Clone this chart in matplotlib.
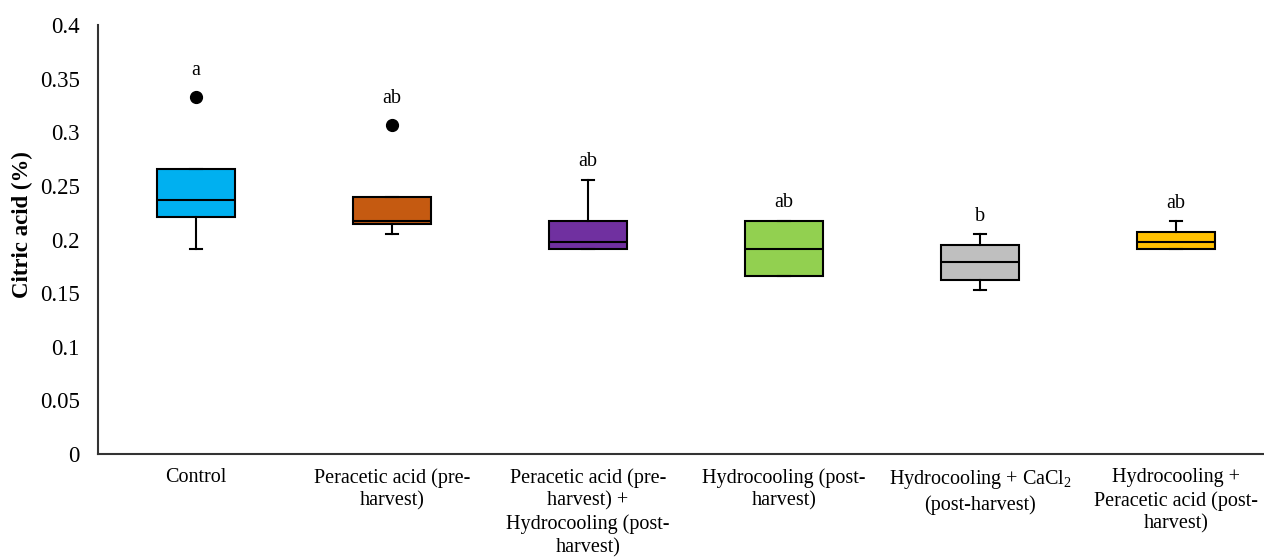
import matplotlib.pyplot as plt

plt.rcParams["font.family"] = ["Liberation Serif", "DejaVu Serif"]
plt.rcParams["mathtext.default"] = "regular"

# treatments and their box statistics (citric acid, %)
treatments = [
    "Control",
    "Peracetic acid (pre-\nharvest)",
    "Peracetic acid (pre-\nharvest) +\nHydrocooling (post-\nharvest)",
    "Hydrocooling (post-\nharvest)",
    "Hydrocooling + CaCl$_2$\n(post-harvest)",
    "Hydrocooling +\nPeracetic acid (post-\nharvest)",
]
whis_low = [0.191, 0.205, 0.1915, 0.166, 0.153, 0.1915]
q1 = [0.2207, 0.2142, 0.1915, 0.166, 0.1625, 0.1915]
median = [0.2365, 0.2170, 0.198, 0.1915, 0.1787, 0.1977]
q3 = [0.2657, 0.2399, 0.2172, 0.2172, 0.1946, 0.2073]
whis_high = [0.2657, 0.2399, 0.2558, 0.2172, 0.2048, 0.2170]
outliers = [[0.3332], [0.3068], [], [], [], []]
letters = ["a", "ab", "ab", "ab", "b", "ab"]
colors = ["#00B0F0", "#C55A11", "#7030A0", "#92D050", "#BFBFBF", "#FFC000"]

stats = []
for i in range(len(treatments)):
    stats.append({
        "whislo": whis_low[i], "q1": q1[i], "med": median[i],
        "q3": q3[i], "whishi": whis_high[i], "fliers": outliers[i],
    })

fig = plt.figure(figsize=(12.64, 5.57), dpi=100)
ax = fig.add_axes([98 / 1264, 103 / 557, 1176 / 1264, 429 / 557])

line = {"color": "black", "linewidth": 1.5}
bp = ax.bxp(
    stats, positions=range(len(treatments)), widths=0.4, patch_artist=True,
    capwidths=0.06,
    boxprops={"edgecolor": "black", "linewidth": 1.5},
    medianprops=line, whiskerprops=line, capprops=line,
    flierprops={"marker": "o", "markerfacecolor": "black",
                "markeredgecolor": "black", "markersize": 8.5},
)
for box, c in zip(bp["boxes"], colors):
    box.set_facecolor(c)

# significance letters above each group
for i, lab in enumerate(letters):
    top = max([whis_high[i]] + outliers[i])
    off = 19 if outliers[i] else 13
    ax.annotate(lab, (i, top), xytext=(0, off), textcoords="offset points",
                ha="center", va="center", fontsize=14.5)

ax.set_xlim(-0.5, 5.5)
ax.set_ylim(0, 0.4)
ax.set_yticks([0, 0.05, 0.1, 0.15, 0.2, 0.25, 0.3, 0.35, 0.4])
ax.set_yticklabels(["0", "0.05", "0.1", "0.15", "0.2", "0.25", "0.3", "0.35", "0.4"])
ax.set_xticks(range(len(treatments)))
ax.set_xticklabels(treatments, fontsize=14.5, linespacing=1.27, va="top")
ax.tick_params(axis="y", length=0, pad=13, labelsize=16.5)
ax.tick_params(axis="x", length=0, pad=10)
ax.set_ylabel("Citric acid (%)", fontsize=16.5, fontweight="bold")
ax.yaxis.set_label_coords(-0.055, 0.534)

for side in ["top", "right"]:
    ax.spines[side].set_visible(False)
for side in ["left", "bottom"]:
    ax.spines[side].set_linewidth(1.5)
    ax.spines[side].set_color("#333333")

fig.savefig("out.png", dpi=100)
